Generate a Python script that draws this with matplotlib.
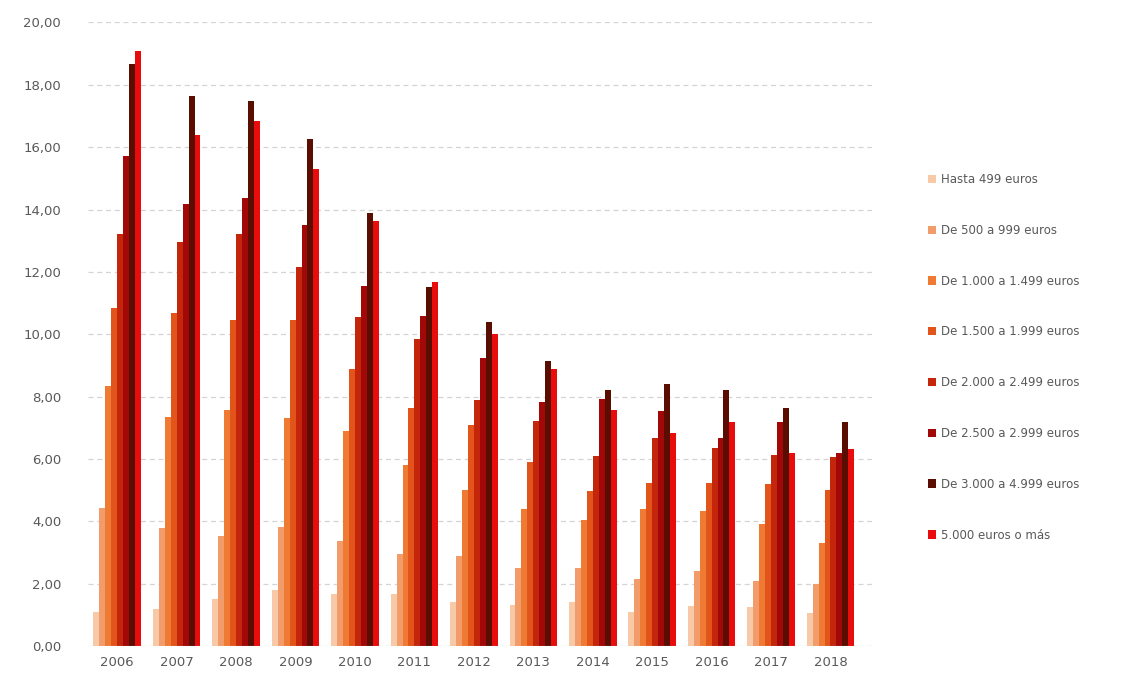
import numpy as np
import matplotlib.pyplot as plt

years = ["2006", "2007", "2008", "2009", "2010", "2011", "2012",
         "2013", "2014", "2015", "2016", "2017", "2018"]

tramos = ["Hasta 499 euros", "De 500 a 999 euros", "De 1.000 a 1.499 euros",
          "De 1.500 a 1.999 euros", "De 2.000 a 2.499 euros",
          "De 2.500 a 2.999 euros", "De 3.000 a 4.999 euros",
          "5.000 euros o más"]

hasta_499 = [1.10, 1.18, 1.52, 1.80, 1.66, 1.68, 1.42, 1.32, 1.40, 1.10, 1.30, 1.26, 1.05]
de_500 = [4.43, 3.78, 3.52, 3.83, 3.38, 2.97, 2.90, 2.52, 2.50, 2.16, 2.42, 2.10, 2.00]
de_1000 = [8.35, 7.34, 7.57, 7.30, 6.90, 5.80, 5.00, 4.40, 4.06, 4.39, 4.33, 3.92, 3.30]
de_1500 = [10.85, 10.68, 10.45, 10.45, 8.90, 7.65, 7.10, 5.90, 4.97, 5.24, 5.24, 5.19, 5.00]
de_2000 = [13.20, 12.95, 13.20, 12.15, 10.55, 9.85, 7.88, 7.22, 6.10, 6.68, 6.36, 6.12, 6.07]
de_2500 = [15.72, 14.19, 14.36, 13.50, 11.55, 10.60, 9.25, 7.82, 7.91, 7.54, 6.68, 7.18, 6.18]
de_3000 = [18.65, 17.63, 17.49, 16.27, 13.90, 11.50, 10.40, 9.15, 8.20, 8.40, 8.20, 7.62, 7.19]
mas_5000 = [19.07, 16.38, 16.83, 15.30, 13.62, 11.68, 10.00, 8.90, 7.56, 6.84, 7.18, 6.20, 6.33]

series = [hasta_499, de_500, de_1000, de_1500, de_2000, de_2500, de_3000, mas_5000]
colors = ["#f7c9a6", "#f29c6c", "#ef7a34", "#e2541a",
          "#c4260c", "#a30808", "#5a0e02", "#e80c0c"]

fig = plt.figure(figsize=(11.37, 6.78), dpi=100)
ax = fig.add_axes([0.077, 0.047, 0.69, 0.92])

x = np.arange(len(years))
w = 0.1
for i, (vals, c, lab) in enumerate(zip(series, colors, tramos)):
    ax.bar(x + (i - 3.5) * w, vals, width=w, color=c, label=lab, zorder=2)

ax.set_ylim(0, 20)
ax.set_xlim(-0.5, len(years) - 0.3)
ax.set_yticks(np.arange(0, 21, 2))
ax.set_yticklabels([f"{v:.2f}".replace(".", ",") for v in np.arange(0, 21, 2)])
ax.set_xticks(x)
ax.set_xticklabels(years)
ax.tick_params(length=0, labelsize=9.5, colors="#595959")
ax.tick_params(axis="y", pad=19)
ax.tick_params(axis="x", pad=7)
ax.yaxis.grid(True, color="#d4d4d4", linestyle=(0, (4, 3)), linewidth=0.9, zorder=0)
for s in ax.spines.values():
    s.set_visible(False)
ax.axhline(0, color="#d9d9d9", linewidth=0.8, zorder=3)

leg = fig.legend(loc="center left", bbox_to_anchor=(0.807, 0.473), frameon=False,
                 fontsize=8.5, labelspacing=3.2, handlelength=0.7, handleheight=0.7,
                 handletextpad=0.4)
for t in leg.get_texts():
    t.set_color("#595959")

fig.savefig("out.png", dpi=100)
